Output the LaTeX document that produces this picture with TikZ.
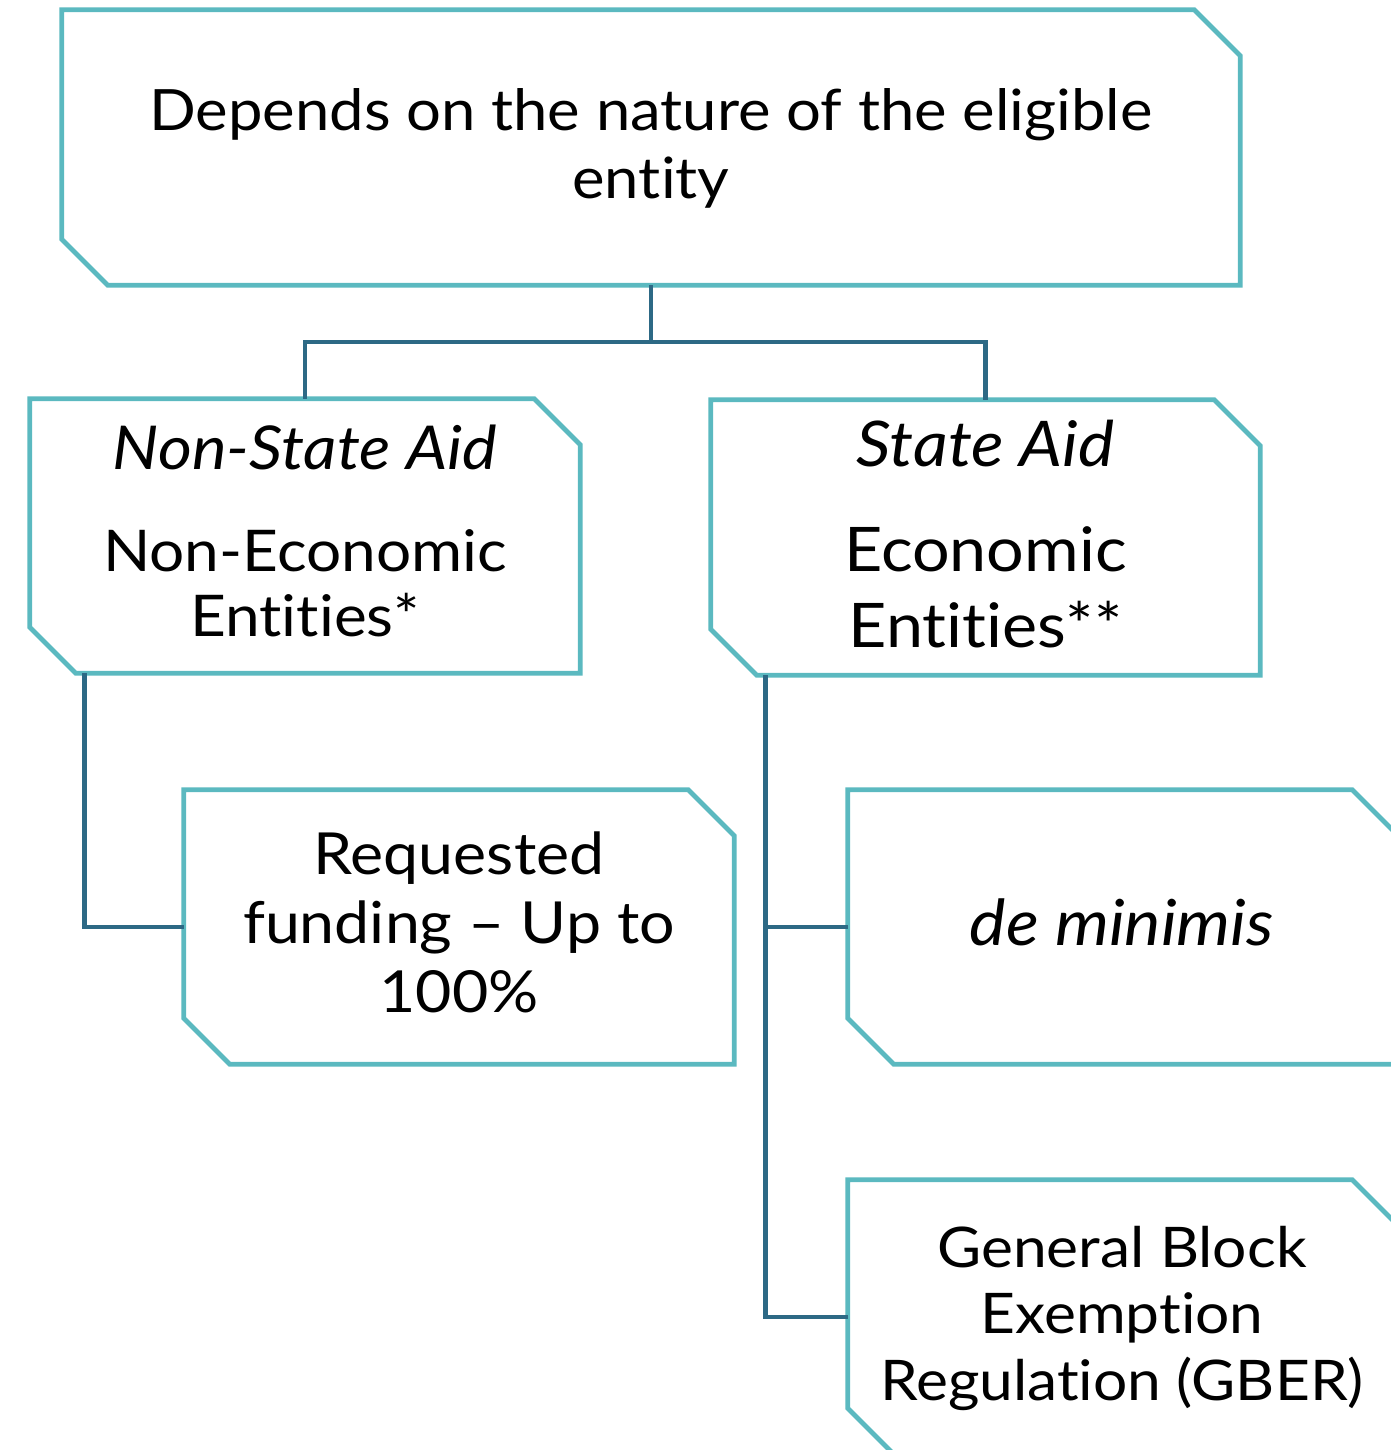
\documentclass[tikz,border=0pt]{standalone}
\usepackage{fontspec}
\setmainfont{Lato}[FakeStretch=1.08, Ligatures=NoCommon]
\definecolor{boxteal}{HTML}{5BB9C0}
\definecolor{linkblue}{HTML}{2D6985}
\begin{document}
\begin{tikzpicture}[x=1pt,y=-1pt,
  frame/.style={inner sep=0pt, minimum width=550pt, minimum height=274pt},
  label text/.style={inner sep=0pt, align=center, text=black},
  outline/.style={draw=boxteal, line width=4.8pt, line join=miter},
  link/.style={draw=linkblue, line width=4.8pt}]
\useasboundingbox (0,0) rectangle (1391,1450);
\clip (0,0) rectangle (1391,1450);
\fill[white] (0,0) rectangle (1391,1450);

% frames
\node[frame, minimum width=1178pt, minimum height=275pt] (top) at (651,147.5) {};
\node[frame] (ns) at (305,536) {};
\node[frame, minimum width=549pt, minimum height=275pt] (sa) at (985.5,537.5) {};
\node[frame] (rf) at (459,927) {};
\node[frame] (dm) at (1123,927) {};
\node[frame] (gb) at (1123,1317) {};

\foreach \n in {top,ns,sa,rf,dm,gb}{
  \draw[outline] (\n.north west) -- ([xshift=-46pt]\n.north east) -- ([yshift=-46pt]\n.north east)
    -- (\n.south east) -- ([xshift=46pt]\n.south west) -- ([yshift=46pt]\n.south west) -- cycle;
}

% texts
\node[label text, font=\fontsize{57}{68}\selectfont] (toptext) at (651,148) {Depends on the nature of the eligible\\entity};
\node[label text, font=\fontsize{57.5}{65}\selectfont] (nstext) at (305,531) {{\fontsize{60.5}{65}\selectfont\itshape Non-State Aid}\\[37pt]Non-Economic\\Entities*};
\node[label text, font=\fontsize{61.5}{76}\selectfont] (satext) at (985.5,534) {{\fontsize{63}{76}\selectfont\itshape State Aid}\\[29pt]Economic\\Entities**};
\node[label text, font=\fontsize{58}{69}\selectfont] (rftext) at (459,922.5) {Requested\\funding -- Up to\\100\%};
\node[label text, font=\fontsize{63.5}{70}\selectfont\itshape] (dmtext) at (1122,922) {de minimis};
\node[label text, font=\fontsize{56}{66.5}\selectfont] (gbtext) at (1122,1318) {General Block\\Exemption\\Regulation (GBER)};

% connectors
\coordinate (split) at (651,342);
\coordinate (nsfoot) at ([xshift=55pt]ns.south west);
\coordinate (safoot) at ([xshift=55pt]sa.south west);
\draw[link] (top.south) -- (split) -| (ns.north);
\draw[link] (split) -| (sa.north);
\draw[link] (nsfoot) |- (rf.west);
\draw[link] (safoot) |- (gb.west);
\draw[link] (dm.west) -- (dm.west -| safoot);
\end{tikzpicture}
\end{document}
